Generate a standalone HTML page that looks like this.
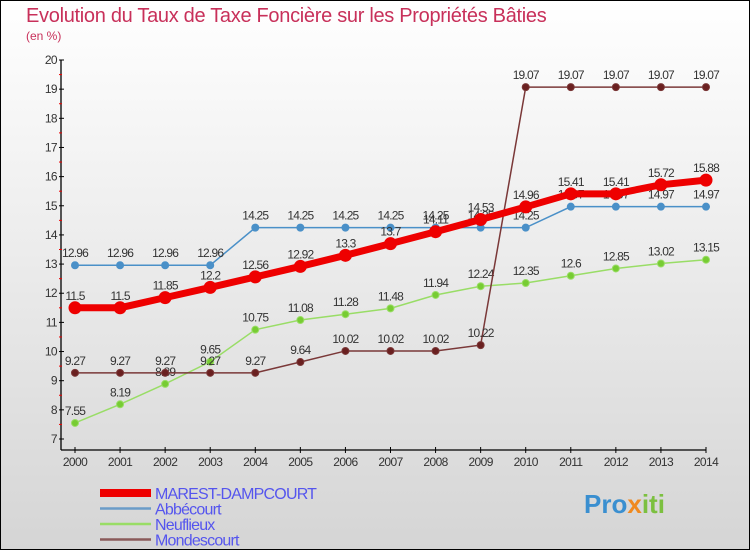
<!DOCTYPE html>
<html><head><meta charset="utf-8"><style>
body{margin:0;width:750px;height:550px;overflow:hidden;font-family:"Liberation Sans",sans-serif}
svg{display:block}
</style></head><body>
<svg id="chart" width="750" height="550" xmlns="http://www.w3.org/2000/svg">
<defs><linearGradient id="bg" x1="0" y1="0" x2="0" y2="1"><stop offset="0" stop-color="#ffffff"/><stop offset="1" stop-color="#d5d5d5"/></linearGradient></defs>
<rect x="0.5" y="0.5" width="749" height="549" fill="url(#bg)" stroke="#000"/>
<text x="26" y="22" font-size="20" fill="#c8305a" letter-spacing="-0.3">Evolution du Taux de Taxe Foncière sur les Propriétés Bâties</text>
<text x="26" y="40" font-size="12" fill="#c8305a">(en %)</text>
<g id="axes"></g><g id="series"></g><g id="legend"></g>
<g font-size="26" font-weight="bold">
<text x="584" y="513" fill="#3a8fd0">Pro<tspan fill="#f08a20">x</tspan><tspan fill="#7cc040">iti</tspan></text></g>
</svg>
<script>
const years=[2000,2001,2002,2003,2004,2005,2006,2007,2008,2009,2010,2011,2012,2013,2014];
const yTicks=[7,8,9,10,11,12,13,14,15,16,17,18,19,20];
const marest=[11.5,11.5,11.85,12.2,12.56,12.92,13.3,13.7,14.11,14.53,14.96,15.41,15.41,15.72,15.88];
const abbecourt=[12.96,12.96,12.96,12.96,14.25,14.25,14.25,14.25,14.25,14.25,14.25,14.97,14.97,14.97,14.97];
const neuflieux=[7.55,8.19,8.89,9.65,10.75,11.08,11.28,11.48,11.94,12.24,12.35,12.6,12.85,13.02,13.15];
const mondescourt=[9.27,9.27,9.27,9.27,9.27,9.64,10.02,10.02,10.02,10.22,19.07,19.07,19.07,19.07,19.07];
const seriesNames=["MAREST-DAMPCOURT","Abbécourt","Neuflieux","Mondescourt"];
const NS="http://www.w3.org/2000/svg";
const xs=i=>75+i*(706-75)/(years.length-1);
const ys=v=>439-(v-7)*(439-60)/13;
function mk(tag,attrs,parent,txt){const e=document.createElementNS(NS,tag);for(const k in attrs)e.setAttribute(k,attrs[k]);if(txt!==undefined)e.textContent=txt;parent.appendChild(e);return e;}
const axes=document.getElementById('axes');
let e=mk('line',{x1:61,y1:60,x2:61,y2:450,stroke:'#000','stroke-width':1.3},axes);

e=mk('line',{x1:61,y1:450,x2:706,y2:450,stroke:'#000','stroke-width':1.3},axes);

yTicks.forEach(t=>{
 mk('line',{x1:59,y1:ys(t),x2:64,y2:ys(t),stroke:'#000'},axes);
 if(t<20)mk('line',{x1:59,y1:ys(t+0.5),x2:62,y2:ys(t+0.5),stroke:'#e00'},axes);
 e=mk('text',{x:57,y:ys(t)+4,'text-anchor':'end','font-size':12,fill:'#333','letter-spacing':'-0.6'},axes,t);
 
});
years.forEach((y,i)=>{
 mk('line',{x1:xs(i),y1:447,x2:xs(i),y2:453,stroke:'#000'},axes);
 e=mk('text',{x:xs(i),y:466,'text-anchor':'middle','font-size':12,fill:'#333','letter-spacing':'-0.6'},axes,y);
 
});
const sg=document.getElementById('series');
function draw(vals,name,color,lw,r,fill){
 const g=mk('g',{},sg);
 
 mk('polyline',{points:vals.map((v,i)=>xs(i)+','+ys(v)).join(' '),fill:'none',stroke:color,'stroke-width':lw},g);
 vals.forEach((v,i)=>{
  const c=mk('circle',{cx:xs(i),cy:ys(v),r:r,fill:fill,stroke:color,'stroke-width':1},g);
  
  const t=mk('text',{x:xs(i),y:ys(v)-8,'text-anchor':'middle','font-size':12,fill:'#333','letter-spacing':'-0.8'},g,String(v));
  
 });
}
draw(abbecourt,'abbecourt','#4a90c8',1.5,3.5,'#4a90c8');
draw(neuflieux,'neuflieux','#99dd66',1.5,3.5,'#77cc33');
draw(mondescourt,'mondescourt','#7a3838',1.5,3.5,'#6a2020');
draw(marest,'marest-dampcourt','#ee0000',7,6,'#ee0000');
const lg=document.getElementById('legend');
const lcol=['#ee0000','#6a9cc8','#99dd66','#8a5a5a'],lw=[8,2.5,2.5,2.5];
seriesNames.forEach((n,i)=>{
 const y=493+i*15.5;
 const g=mk('g',{},lg);
 
 mk('line',{x1:100,y1:y,x2:151,y2:y,stroke:lcol[i],'stroke-width':lw[i]},g);
 mk('text',{x:155,y:y+6,'font-size':16,fill:'#5555ee','letter-spacing':'-0.8'},g,n);
});
</script>
</body></html>
